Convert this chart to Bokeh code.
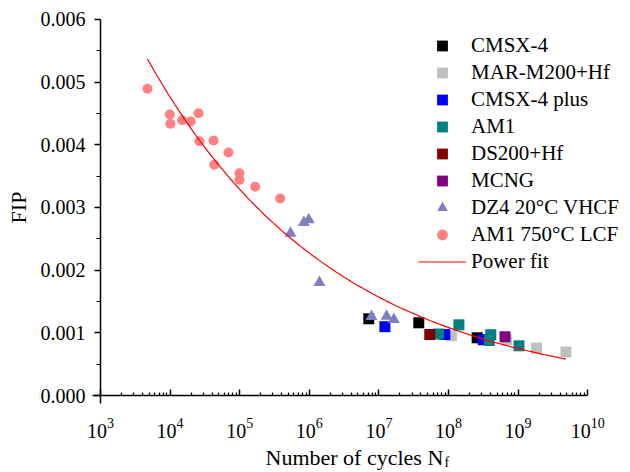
import math
import numpy as np
from bokeh.plotting import figure
from bokeh.models import (FixedTicker, LogTickFormatter, PrintfTickFormatter,
                          Legend, LegendItem, Label)
from bokeh.embed import file_html
from bokeh.resources import INLINE

FONT = "Liberation Serif"

# ---- data ----
cmsx4_n = [7.16e6, 3.74e7, 2.58e8]
cmsx4_f = [0.001224, 0.00116, 0.000921]

marm200_n = [1.10e8, 6.8e8, 1.84e9, 4.87e9]
marm200_f = [0.000953, 0.000889, 0.000755, 0.000694]

cmsx4plus_n = [1.22e7, 8.85e7, 3.15e8]
cmsx4plus_f = [0.001098, 0.000973, 0.000890]

am1_n = [7.18e7, 1.41e8, 4.05e8, 3.85e8, 1.03e9]
am1_f = [0.000981, 0.001128, 0.000970, 0.000878, 0.000793]

ds200_n = [5.38e7]
ds200_f = [0.000973]

mcng_n = [6.49e8]
mcng_f = [0.000937]

dz4_n = [5.37e5, 8.34e5, 9.84e5, 1.40e6, 7.83e6, 1.29e7, 1.64e7]
dz4_f = [0.002590, 0.002760, 0.002804, 0.001803, 0.001261, 0.001265, 0.001213]

am1lcf_n = [4.73e3, 9.9e3, 1.01e4, 1.49e4, 1.98e4, 2.56e4, 2.64e4, 4.21e4,
            6.90e4, 4.31e4, 9.93e4, 9.93e4, 1.67e5, 3.82e5]
am1lcf_f = [0.004894, 0.004484, 0.004336, 0.004393, 0.004372, 0.004505,
            0.004058, 0.004069, 0.003877, 0.003681, 0.003547, 0.003442,
            0.003330, 0.003143]

# power fit FIP = a * N^b (parameters)
fit_a = 0.0209
fit_b = -0.1606

x_major = [1e3, 1e4, 1e5, 1e6, 1e7, 1e8, 1e9, 1e10]
y_major = [0.000, 0.001, 0.002, 0.003, 0.004, 0.005, 0.006]
y_minor = [0.0005, 0.0015, 0.0025, 0.0035, 0.0045, 0.0055]

series = [
    ("CMSX-4", cmsx4_n, cmsx4_f, "square", "#000000"),
    ("MAR-M200+Hf", marm200_n, marm200_f, "square", "#C0C0C0"),
    ("CMSX-4 plus", cmsx4plus_n, cmsx4plus_f, "square", "#0000FF"),
    ("AM1", am1_n, am1_f, "square", "#008080"),
    ("DS200+Hf", ds200_n, ds200_f, "square", "#800000"),
    ("MCNG", mcng_n, mcng_f, "square", "#800080"),
    ("DZ4 20°C VHCF", dz4_n, dz4_f, "triangle", "#8080C0"),
    ("AM1 750°C LCF", am1lcf_n, am1lcf_f, "circle", "#FF8080"),
]
sizes = {"square": 11, "triangle": 12, "circle": 10}

# ---- layout: the frame fills the whole canvas, axes are pinned inside ----
W, H = 630, 472
X0_PX = 100.0     # canvas x of N = 1e3
DEC_PX = 69.6     # pixels per decade
Y0_PX = 395.0     # canvas y of FIP = 0
UNIT_PX = 62.67   # pixels per 0.001

x_start = 10 ** (3 - X0_PX / DEC_PX)
x_end = 10 ** (3 + (W - X0_PX) / DEC_PX)
y_end = Y0_PX / UNIT_PX * 0.001
y_start = -(H - Y0_PX) / UNIT_PX * 0.001

p = figure(width=W, height=H, x_axis_type="log", title=None,
           x_range=(x_start, x_end), y_range=(y_start, y_end),
           output_backend="svg", toolbar_location=None,
           min_border=0)
p.grid.visible = False
p.outline_line_color = None
p.background_fill_color = "white"

items = []
for name, xs, ys, marker, color in series:
    r = p.scatter(xs, ys, marker=marker, size=sizes[marker],
                  fill_color=color, line_color=None)
    items.append(LegendItem(label=name, renderers=[r]))

all_n = [v for s in series for v in s[1]]
fit_n = np.logspace(np.log10(min(all_n)), np.log10(max(all_n)), 200)
fit_f = fit_a * fit_n ** fit_b
rf = p.line(fit_n, fit_f, line_color="#FF0000", line_width=1.2)
items.append(LegendItem(label="Power fit", renderers=[rf]))

# axes pinned at FIP = 0 and N = 1e3
xa = p.xaxis[0]
xa.fixed_location = 0
xa.bounds = (10 ** (3 - 8 / DEC_PX), 1e10)
xa.ticker = FixedTicker(ticks=x_major,
                        minor_ticks=[k * 10.0 ** d for d in range(3, 10) for k in range(2, 10)])
xa.formatter = LogTickFormatter()
xa.major_tick_in = 6
xa.major_tick_out = 0
xa.minor_tick_in = 3
xa.minor_tick_out = 0
xa.major_label_standoff = 22

ya = p.yaxis[0]
ya.fixed_location = 1e3
ya.bounds = (-8 / UNIT_PX * 0.001, 0.006)
ya.ticker = FixedTicker(ticks=y_major, minor_ticks=y_minor)
ya.formatter = PrintfTickFormatter(format="%.3f")
ya.major_tick_in = 0
ya.major_tick_out = 6
ya.minor_tick_in = 0
ya.minor_tick_out = 4
ya.major_label_standoff = 9

for ax in (xa, ya):
    ax.axis_line_width = 1.5
    ax.axis_line_color = "black"
    ax.major_tick_line_width = 1.5
    ax.major_tick_line_color = "black"
    ax.minor_tick_line_width = 1.2
    ax.minor_tick_line_color = "black"
    ax.major_label_text_font = FONT
    ax.major_label_text_font_size = "20px"
    ax.major_label_text_color = "black"

# axis titles (screen units from the canvas bottom-left)
p.add_layout(Label(x=18, y=H - 207, x_units="screen", y_units="screen",
                   text="FIP", angle=math.pi / 2, text_font=FONT,
                   text_font_size="22px", text_color="black",
                   text_align="center", text_baseline="middle"))
p.add_layout(Label(x=265, y=15, x_units="screen", y_units="screen",
                   text="Number of cycles N", text_font=FONT,
                   text_font_size="22px", text_color="black",
                   text_align="left", text_baseline="alphabetic"))
p.add_layout(Label(x=444, y=10, x_units="screen", y_units="screen",
                   text="f", text_font=FONT, text_font_size="14px",
                   text_color="black", text_align="left",
                   text_baseline="alphabetic"))

legend = Legend(items=items, location=(418, 197), glyph_width=48,
                glyph_height=27, label_height=27, spacing=0, padding=0,
                margin=0, label_standoff=5, border_line_alpha=0,
                background_fill_alpha=0, label_text_font=FONT,
                label_text_font_size="21px", label_text_color="black")
p.add_layout(legend)

open("out.html", "w").write(file_html(p, INLINE))
